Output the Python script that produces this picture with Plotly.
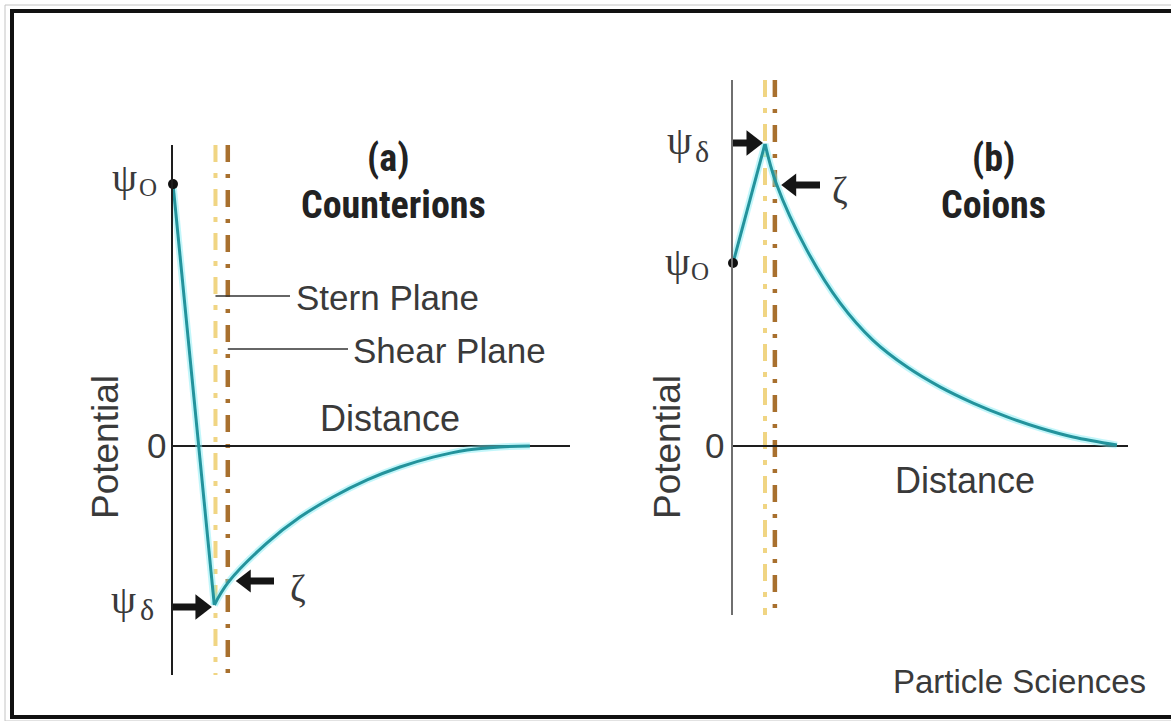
import plotly.graph_objects as go

W, H = 1171, 721

# ---------------- data (arbitrary units) ----------------
# Panel (a) Counterions
a_dist = [0.0, 1.04, 1.40, 2.37, 3.20, 4.03, 4.89, 5.72, 6.55, 7.41, 8.24, 8.99]
a_pot = [87.3, -53.0, -45.3, -32.3, -23.7, -17.0, -11.3, -7.0, -3.7, -1.3, -0.3, 0.0]
a_stern, a_shear = 1.07, 1.38
# Panel (b) Coions
b_dist = [0.0, 0.81, 1.09, 1.87, 2.71, 3.54, 4.41, 5.24, 6.08, 6.94, 7.77, 8.61, 9.72]
b_pot = [61.0, 100.7, 87.7, 65.3, 47.7, 35.3, 26.3, 19.7, 14.3, 9.7, 6.0, 3.0, 0.3]
b_stern, b_shear = 0.81, 1.06

titles = ["(a)", "(b)"]
subtitles = ["Counterions", "Coions"]

# ---------------- style ----------------
TEAL = "#23939c"
GLOW = "rgba(120,235,245,0.45)"
STERN_C = "#ecc75a"
SHEAR_C = "#a8702e"
AX_C = "#1e1e1e"
TXT = "#3a3a3a"
SANS = "Liberation Sans, Arial, sans-serif"
SERIF = "Liberation Serif, Times New Roman, serif"
COND = "Liberation Sans Narrow, Roboto Condensed, Arial Narrow, Liberation Sans, sans-serif"
PXU_A, PXU_B = 39.7, 39.5   # pixels per distance unit


def px(x):
    return x / W


def py(y):
    return 1 - y / H


fig = go.Figure()


def add_curve(dist, pot, xa, ya):
    for col, wid in [(GLOW, 7), (TEAL, 3)]:
        fig.add_trace(go.Scatter(x=dist[:2], y=pot[:2], mode="lines", xaxis=xa, yaxis=ya,
                                 line=dict(color=col, width=wid), hoverinfo="skip", showlegend=False))
        fig.add_trace(go.Scatter(x=dist[1:], y=pot[1:], mode="lines", xaxis=xa, yaxis=ya,
                                 line=dict(color=col, width=wid, shape="spline"), hoverinfo="skip",
                                 showlegend=False))
    fig.add_trace(go.Scatter(x=[dist[0]], y=[pot[0]], mode="markers", xaxis=xa, yaxis=ya,
                             marker=dict(color="#111", size=10), showlegend=False, cliponaxis=False))


add_curve(a_dist, a_pot, "x", "y")
add_curve(b_dist, b_pot, "x2", "y2")


def arrow(xa, ya, x_tip, y_tip, x_tail, pxu, head=22):
    direction = 1 if x_tip > x_tail else -1
    centre = x_tip - direction * (head / 2) / pxu
    fig.add_trace(go.Scatter(x=[x_tail, centre], y=[y_tip, y_tip], mode="lines", xaxis=xa, yaxis=ya,
                             line=dict(color="#151515", width=7), hoverinfo="skip",
                             showlegend=False, cliponaxis=False))
    fig.add_trace(go.Scatter(x=[centre], y=[y_tip], mode="markers", xaxis=xa, yaxis=ya,
                             marker=dict(symbol="triangle-right" if direction > 0 else "triangle-left",
                                         size=head, color="#151515", line=dict(width=0)),
                             hoverinfo="skip", showlegend=False, cliponaxis=False))


arrow("x", "y", 0.98, -(607 - 446) / 3, (164 - 173) / PXU_A, PXU_A)
arrow("x", "y", 1.58, -(581 - 446) / 3, (274 - 173) / PXU_A, PXU_A, head=20)
arrow("x2", "y2", 0.76, (446 - 143) / 3, (722 - 733) / PXU_B, PXU_B)
arrow("x2", "y2", 1.22, (446 - 185) / 3, (820 - 733) / PXU_B, PXU_B, head=20)

axis_common = dict(showgrid=False, showticklabels=False, ticks="", zeroline=False, fixedrange=True)

fig.update_layout(
    width=W, height=H, autosize=False,
    margin=dict(l=0, r=0, t=0, b=0),
    paper_bgcolor="white", plot_bgcolor="rgba(0,0,0,0)",
    showlegend=False,
    xaxis=dict(domain=[px(173), px(570)], range=[0, 10], anchor="y", **axis_common),
    yaxis=dict(domain=[py(675), py(145)], range=[-(675 - 446) / 3, (446 - 145) / 3], anchor="x",
               showgrid=False, showticklabels=False, ticks="", fixedrange=True,
               showline=True, linecolor=AX_C, linewidth=2,
               zeroline=True, zerolinecolor=AX_C, zerolinewidth=2),
    xaxis2=dict(domain=[px(733), px(1128)], range=[0, 10], anchor="y2", **axis_common),
    yaxis2=dict(domain=[py(615), py(80)], range=[-(615 - 446) / 3, (446 - 80) / 3], anchor="x2",
                showgrid=False, showticklabels=False, ticks="", fixedrange=True,
                showline=True, linecolor="#6f6f6f", linewidth=2,
                zeroline=True, zerolinecolor=AX_C, zerolinewidth=2),
)

shapes = []
# plane lines
for xref, yref, st, sh in [("x", "y domain", a_stern, a_shear), ("x2", "y2 domain", b_stern, b_shear)]:
    shapes.append(dict(type="line", xref=xref, yref=yref, x0=st, x1=st, y0=1, y1=0, layer="below",
                       line=dict(color=STERN_C, width=4, dash="17px,11px,5px,11px"), opacity=0.75))
    shapes.append(dict(type="line", xref=xref, yref=yref, x0=sh, x1=sh, y0=1, y1=0, layer="below",
                       line=dict(color=SHEAR_C, width=4.5, dash="17px,12px,4px,12px")))

# leader lines for plane labels (panel a)
shapes.append(dict(type="line", xref="x", yref="y", x0=a_stern, x1=(290 - 173) / PXU_A,
                   y0=(446 - 296) / 3, y1=(446 - 296) / 3, line=dict(color="#333", width=1.5)))
shapes.append(dict(type="line", xref="x", yref="y", x0=a_shear, x1=(348 - 173) / PXU_A,
                   y0=(446 - 349) / 3, y1=(446 - 349) / 3, line=dict(color="#333", width=1.5)))

# frame
shapes.append(dict(type="rect", xref="paper", yref="paper", x0=px(5), x1=px(1180), y0=py(721),
                   y1=py(5), line=dict(color="#c4c4c4", width=1)))
shapes.append(dict(type="rect", xref="paper", yref="paper", x0=px(12), x1=px(1178), y0=py(717),
                   y1=py(11), line=dict(color="#111", width=4)))
fig.update_layout(shapes=shapes)

ann = []


def text(x, y, s, size, family=SANS, color=TXT, angle=0, xanchor="center", bold=False):
    if bold:
        s = "<b>" + s + "</b>"
    ann.append(dict(x=px(x), y=py(y), xref="paper", yref="paper", text=s, showarrow=False,
                    font=dict(size=size, family=family, color=color), textangle=angle,
                    xanchor=xanchor, yanchor="middle"))


# panel a labels
text(124, 177, "ψ", 40, SERIF)
text(148, 187, "O", 25, SERIF)
text(123, 599, "ψ", 40, SERIF)
text(147, 609, "δ", 30, SERIF)
text(156, 446, "0", 35)
text(106, 447, "Potential", 37, angle=-90)
text(390, 418, "Distance", 36)
text(294, 297, "Stern Plane", 35, xanchor="left")
text(351, 350, "Shear Plane", 35, xanchor="left")
text(298, 588, "ζ", 38, SERIF)
text(389, 158, titles[0], 38, COND, color="#222", bold=True)
text(393, 205, subtitles[0], 38, COND, color="#222", bold=True)

# panel b labels
text(679, 140, "ψ", 40, SERIF)
text(702, 151, "δ", 30, SERIF)
text(677, 261, "ψ", 40, SERIF)
text(700, 271, "O", 25, SERIF)
text(714, 446, "0", 35)
text(668, 447, "Potential", 37, angle=-90)
text(965, 480, "Distance", 36)
text(840, 190, "ζ", 38, SERIF)
text(993, 158, titles[1], 38, COND, color="#222", bold=True)
text(993, 205, subtitles[1], 38, COND, color="#222", bold=True)

text(1019, 681, "Particle Sciences", 33)

fig.update_layout(annotations=ann)

fig.write_html("out.html", config={"displayModeBar": False},
               post_script="document.body.style.margin='0';")
